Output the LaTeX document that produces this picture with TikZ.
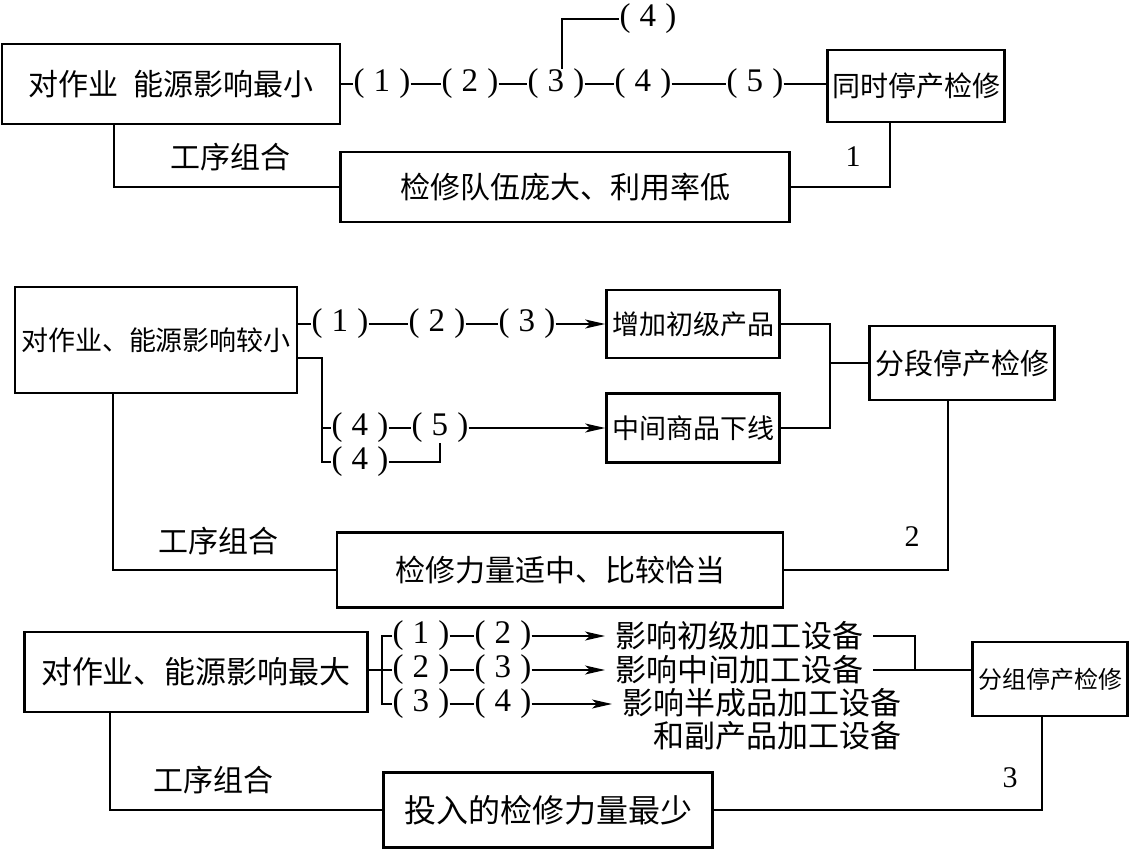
\documentclass[tikz,border=0pt]{standalone}
\usepackage{fontspec}
\setmainfont{Liberation Serif}
\newfontfamily\cjk{Noto Sans CJK SC}
\usetikzlibrary{arrows.meta}
\newcommand\stp[1]{(\hspace{.28em}#1\hspace{.28em})}
\newcommand\cnsize[1]{\cjk\fontsize{#1}{#1}\selectfont}
\tikzset{
  mainbox/.style={draw, line width=2.6pt, inner sep=0pt, font=\cnsize{30}},
  steplbl/.style={inner sep=0pt, font=\fontsize{33}{35}\selectfont},
  effect/.style={inner xsep=10pt, inner ysep=0pt, anchor=west, font=\cnsize{31}},
  note/.style={inner sep=0pt, font=\cnsize{30}},
  idx/.style={inner sep=0pt, font=\fontsize{30}{32}\selectfont},
  wire/.style={line width=1.4pt},
  feed/.style={wire, -{Stealth[length=20pt, width=9pt, inset=5pt]}},
}

\begin{document}
\begin{tikzpicture}[x=1pt, y=-1pt]
\useasboundingbox (0,0) rectangle (1133,851);

% ---- 1: simultaneous shutdown
\node[mainbox, minimum width=338, minimum height=80] (zy1) at (171, 84) {对作业\hspace{.5em}能源影响最小};
\node[mainbox, minimum width=177, minimum height=72, font=\cnsize{28}] (ts1) at (916, 86) {同时停产检修};
\node[mainbox, minimum width=449, minimum height=70] (jd1) at (565,187) {检修队伍庞大、利用率低};
\node[steplbl] (p11) at (382, 84) {\stp{1}};
\node[steplbl] (p12) at (470, 84) {\stp{2}};
\node[steplbl] (p13) at (556, 84) {\stp{3}};
\node[steplbl] (p14) at (643, 84) {\stp{4}};
\node[steplbl] (p15) at (755, 84) {\stp{5}};
\node[steplbl] (q14) at (648, 19) {\stp{4}};
\node[note]    (gx1) at (230,157) {工序组合};
\node[idx]     (n1)  at (853,157) {1};
\draw[wire] (zy1.east |- p11) -- (p11) -- (p12) -- (p13) -- (p14) -- (p15) -- (p15.east -| ts1.west);
\draw[wire] ([xshift=6]p13.north) |- (q14.west);
\draw[wire] ([xshift=-57]zy1.south) |- (jd1.west);
\draw[wire] (jd1.east) -| ([xshift=-26]ts1.south);

% ---- 2: sectional shutdown
\node[mainbox, minimum width=282, minimum height=106, font=\cnsize{27}] (zy2) at (156,340) {对作业、能源影响较小};
\node[mainbox, minimum width=173, minimum height=68, font=\cnsize{27}] (zj2) at (693,324) {增加初级产品};
\node[mainbox, minimum width=173, minimum height=69, font=\cnsize{27}] (zx2) at (693,428) {中间商品下线};
\node[mainbox, minimum width=185, minimum height=74, font=\cnsize{29}] (fd2) at (962,363) {分段停产检修};
\node[mainbox, minimum width=446, minimum height=75] (jd2) at (560,570) {检修力量适中、比较恰当};
\node[steplbl] (p21) at (340,324) {\stp{1}};
\node[steplbl] (p22) at (437,324) {\stp{2}};
\node[steplbl] (p23) at (527,324) {\stp{3}};
\node[steplbl] (p24) at (360,428) {\stp{4}};
\node[steplbl] (p25) at (440,428) {\stp{5}};
\node[steplbl] (p26) at (360,462) {\stp{4}};
\node[note]    (gx2) at (218,541) {工序组合};
\node[idx]     (n2)  at (912,537) {2};
\coordinate (fk2) at (322,358);
\coordinate (hb2) at (830,363);
\draw[wire] (zy2.east |- p21) -- (p21) -- (p22) -- (p23);
\draw[feed] (p23) -- (zj2);
\draw[wire] (zy2.east |- fk2) -- (fk2) |- (p24.west);
\draw[wire] (fk2) |- (p26.west);
\draw[wire] (p24) -- (p25);
\draw[feed] (p25) -- (zx2);
\draw[wire] (p26.east) -| (p25.south);
\draw[wire] (zj2.east) -| (hb2) -- (fd2.west);
\draw[wire] (zx2.east) -| (hb2);
\draw[wire] ([xshift=-43]zy2.south) |- (jd2.west);
\draw[wire] (jd2.east) -| ([xshift=-14]fd2.south);

% ---- 3: grouped shutdown
\node[mainbox, minimum width=343, minimum height=80, font=\cnsize{31}] (zy3) at (196,672) {对作业、能源影响最大};
\node[mainbox, minimum width=155, minimum height=74, font=\cnsize{24}] (fz3) at (1050,679) {分组停产检修};
\node[mainbox, minimum width=329, minimum height=75, font=\cnsize{32}] (jd3) at (548,810) {投入的检修力量最少};
\node[steplbl] (p31) at (421,636) {\stp{1}};
\node[steplbl] (p32) at (503,636) {\stp{2}};
\node[steplbl] (p33) at (421,670) {\stp{2}};
\node[steplbl] (p34) at (503,670) {\stp{3}};
\node[steplbl] (p35) at (421,704) {\stp{3}};
\node[steplbl] (p36) at (503,704) {\stp{4}};
\node[effect] (yx31) at (605,636) {影响初级加工设备};
\node[effect] (yx32) at (605,670) {影响中间加工设备};
\node[effect, anchor=north west, align=right, inner ysep=0pt] (yx33) at (612,688) {影响半成品加工设备\\[2pt]和副产品加工设备};
\node[note]    (gx3) at (213,780) {工序组合};
\node[idx]     (n3)  at (1010,778) {3};
\coordinate (fk3) at (382,670);
\coordinate (hb3) at (915,670);
\draw[wire] (zy3.east |- fk3) -- (fk3);
\draw[wire] (p31.west) -| (fk3) |- (p35.west);
\draw[wire] (fk3) -- (p33);
\draw[wire] (p31) -- (p32);
\draw[wire] (p33) -- (p34);
\draw[wire] (p35) -- (p36);
\draw[feed] (p32) -- (yx31);
\draw[feed] (p34) -- (yx32);
\draw[feed] (p36) -- (p36 -| yx33.west);
\draw[wire] (yx31.east) -| (hb3);
\draw[wire] (yx32.east) -- (yx32.east -| fz3.west);
\draw[wire] ([xshift=-86]zy3.south) |- (jd3.west);
\draw[wire] (jd3.east) -| ([xshift=-8]fz3.south);
\end{tikzpicture}
\end{document}
